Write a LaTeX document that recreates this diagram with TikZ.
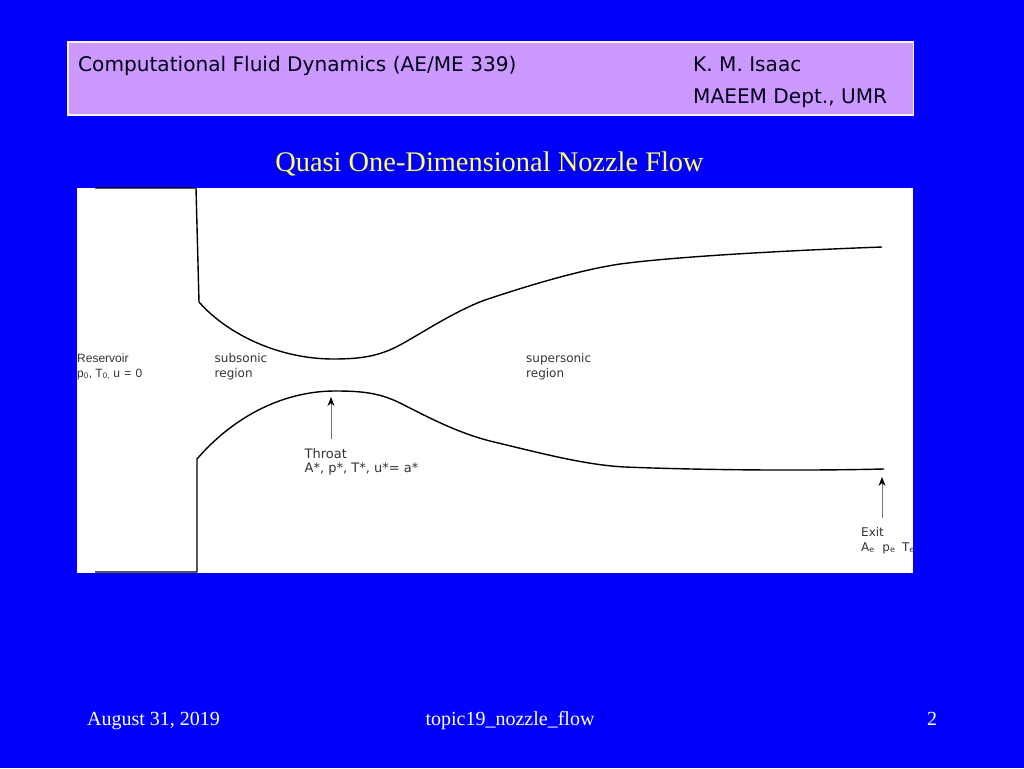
\documentclass[tikz,border=0pt]{standalone}
\usepackage{fontspec}
\setmainfont{Liberation Serif}
\newfontfamily\headfont{DejaVu Sans}
\newfontfamily\arialfont{Liberation Sans}
\usetikzlibrary{arrows.meta}
\definecolor{slideblue}{RGB}{0,0,252}
\definecolor{headlilac}{RGB}{204,153,255}
\definecolor{titleyellow}{RGB}{255,255,102}
\tikzset{
  headtext/.style={inner sep=0pt, anchor=base west, text=black!90!blue, font=\headfont\fontsize{20.1}{24}\selectfont},
  labeltext/.style={inner sep=0pt, anchor=base west, align=left, text=black!80, font=\headfont\fontsize{12}{14.3}\selectfont},
  foottext/.style={inner sep=0pt, anchor=base, text=white, font=\fontsize{20}{24}\selectfont},
  wall/.style={line width=1.4pt, line join=round},
  pointer/.style={line width=0.8pt, draw=black!55, -{Stealth[length=9pt,width=7pt,black]}}
}
\begin{document}
\begin{tikzpicture}[x=1pt, y=-1pt]
  \useasboundingbox[fill=slideblue] (0,0) rectangle (1024,768);
  \draw[draw=white!85!headlilac, line width=1.2pt, fill=headlilac] (68,42) rectangle (913.5,115);
  \node[headtext] (course) at (78,71) {Computational Fluid Dynamics (AE/ME 339)};
  \node[headtext] (teacher) at (693,71) {K. M. Isaac};
  \node[headtext] (dept) at (693,103.5) {MAEEM Dept., UMR};
  \node[inner sep=0pt, anchor=base, text=titleyellow, font=\fontsize{28.4}{32}\selectfont] (title) at (489.5,171) {Quasi One-Dimensional Nozzle Flow};
  \fill[white] (77,188) rectangle (913,572.5);
  \draw[wall] (95,188) -- (196,188) -- (199,302)
    .. controls (228,335) and (280,359) .. (333,359)
    .. controls (358,359) and (378,357) .. (400,345)
    .. controls (422,333) and (455,311) .. (485,300)
    .. controls (530,285) and (580,270) .. (620,264)
    .. controls (680,256) and (800,250) .. (882,247);
  \draw[wall] (95,572) -- (197,572) -- (197,459)
    .. controls (235,415) and (285,391) .. (335,391)
    .. controls (358,391) and (378,392) .. (400,403)
    .. controls (425,415.5) and (455,432) .. (490,441)
    .. controls (540,453) and (585,465) .. (625,467)
    .. controls (700,470) and (800,471) .. (884,469);
  \node[labeltext, font=\arialfont\fontsize{12}{14.3}\selectfont] (reservoir) at (77,377) {Reservoir\\p\textsubscript{0}, T\textsubscript{0,} u\hspace{1pt} =\hspace{1pt} 0};
  \node[labeltext] (subsonic) at (214.5,377) {subsonic\\region};
  \node[labeltext] (supersonic) at (526,377) {supersonic\\region};
  \node[labeltext, font=\headfont\fontsize{13}{14.3}\selectfont] (throat) at (304.5,472.5) {Throat\\A*, p*, T*, u*= a*};
  \node[labeltext] (exit) at (861,551) {Exit\\A\textsubscript{e}\ \ p\textsubscript{e}\ \ \hspace{-1pt}T\textsubscript{e}};
  \coordinate (throattail) at (331,439);
  \coordinate (throattip) at (331,397);
  \coordinate (exittail) at (882,518);
  \coordinate (exittip) at (882,477);
  \draw[pointer] (throattail) -- (throattip);
  \draw[pointer] (exittail) -- (exittip);
  \node[foottext] (date) at (153.5,725) {August 31, 2019};
  \node[foottext] (topic) at (510,725) {topic19\_nozzle\_flow};
  \node[foottext] (page) at (932,725) {2};
\end{tikzpicture}
\end{document}
